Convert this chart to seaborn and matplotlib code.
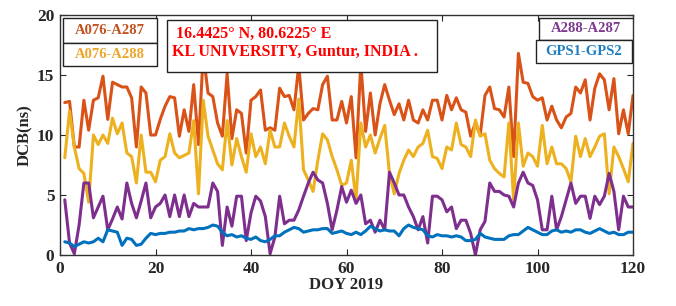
import numpy as np
import pandas as pd
import matplotlib
matplotlib.use("Agg")
import matplotlib.pyplot as plt
import seaborn as sns
from matplotlib.patches import Rectangle

# DCB values per day of year (2019)
doy = list(range(1, 121))

a076_a287 = [12.7, 12.8, 9.0, 9.0, 12.9, 10.4, 12.9, 13.1, 14.9, 11.3,
             14.4, 14.2, 14.0, 14.0, 13.1, 9.0, 14.0, 13.5, 10.0, 10.0,
             11.3, 12.4, 13.2, 13.1, 9.9, 12.1, 10.3, 14.2, 9.2, 16.8,
             13.5, 13.2, 11.0, 9.9, 15.1, 9.7, 12.1, 11.8, 8.5, 12.9,
             13.2, 13.75, 10.4, 10.6, 10.4, 13.9, 13.2, 13.3, 12.1, 15.8,
             11.25, 11.8, 12.2, 12.1, 14.2, 14.9, 11.25, 11.25, 12.8, 11.0,
             13.2, 8.1, 16.0, 10.3, 13.5, 10.0, 12.6, 14.2, 12.9, 11.7,
             12.6, 11.25, 12.9, 11.25, 11.0, 12.1, 11.25, 12.9, 12.9, 11.25,
             13.3, 12.1, 13.1, 12.1, 11.9, 9.9, 11.0, 10.0, 13.3, 14.0,
             12.2, 12.1, 11.5, 14.0, 8.2, 16.8, 14.4, 14.3, 13.2, 12.9,
             13.1, 11.25, 12.4, 11.25, 10.6, 11.5, 11.8, 14.0, 13.5, 14.6,
             11.25, 13.9, 15.1, 14.6, 12.1, 14.7, 10.1, 12.1, 10.1, 13.3]

a076_a288 = [8.1, 12.0, 9.0, 7.2, 6.8, 4.4, 10.0, 9.2, 10.0, 9.3,
             11.4, 10.1, 11.0, 8.5, 8.2, 6.0, 10.0, 6.9, 6.9, 6.1,
             7.9, 8.2, 10.1, 8.5, 8.1, 8.3, 8.5, 11.2, 5.1, 12.9,
             9.9, 8.75, 7.6, 7.1, 11.2, 7.5, 9.7, 8.2, 6.9, 10.1,
             8.2, 9.0, 7.6, 10.4, 9.0, 9.0, 11.0, 9.9, 9.0, 13.0,
             7.1, 6.25, 5.3, 7.9, 10.1, 9.6, 8.2, 7.1, 5.8, 6.0,
             7.9, 4.6, 11.0, 9.0, 10.0, 8.5, 9.7, 10.8, 6.8, 5.1,
             6.8, 7.9, 8.75, 8.2, 9.0, 9.3, 10.4, 8.2, 8.05, 7.2,
             9.0, 8.75, 11.0, 9.2, 9.0, 8.2, 11.25, 9.9, 10.1, 7.9,
             7.2, 6.8, 6.5, 11.0, 4.6, 11.0, 7.4, 8.5, 8.2, 7.4,
             10.8, 7.6, 9.0, 7.6, 7.6, 7.2, 6.1, 9.9, 8.2, 9.7,
             8.2, 9.0, 9.9, 10.1, 5.1, 9.0, 8.2, 7.2, 6.1, 9.3]

a288_a287 = [4.6, 1.0, 0.1, 2.5, 6.0, 6.0, 3.1, 4.0, 4.9, 2.1,
             3.0, 4.0, 3.0, 6.0, 4.3, 3.1, 4.5, 6.0, 3.1, 4.0,
             4.3, 5.0, 3.2, 5.0, 3.2, 5.0, 3.2, 4.3, 4.0, 4.0,
             4.0, 6.0, 5.3, 0.8, 4.0, 2.4, 4.9, 4.9, 1.2, 3.5,
             4.9, 4.5, 3.2, 0.1, 1.5, 4.9, 2.6, 2.9, 2.9, 3.75,
             4.9, 6.0, 6.9, 6.25, 6.0, 4.3, 2.1, 3.75, 5.7, 4.4,
             5.4, 4.3, 5.0, 2.6, 2.9, 1.9, 2.9, 2.1, 6.9, 6.0,
             5.0, 5.0, 4.0, 3.2, 2.1, 3.2, 1.0, 4.9, 4.9, 4.6,
             3.6, 4.0, 2.2, 2.9, 2.9, 1.8, 0.0, 2.1, 2.8, 6.0,
             5.3, 5.3, 5.0, 4.9, 4.0, 6.0, 6.9, 6.0, 5.8, 4.6,
             2.1, 2.1, 4.9, 2.1, 3.2, 4.6, 6.0, 4.3, 4.9, 4.9,
             3.05, 4.9, 4.2, 4.9, 6.8, 5.3, 2.1, 4.9, 4.0, 4.0]

gps1_gps2 = [1.1, 1.0, 0.7, 0.9, 1.1, 1.0, 1.1, 1.4, 1.1, 2.1,
             2.0, 1.9, 0.8, 1.4, 1.3, 0.8, 0.9, 1.4, 1.8, 1.7,
             1.8, 1.8, 1.9, 1.9, 2.0, 2.0, 2.2, 2.1, 2.2, 2.2,
             2.3, 2.5, 2.4, 1.9, 1.6, 1.7, 1.5, 1.6, 1.4, 1.3,
             1.5, 1.2, 1.1, 1.3, 1.6, 1.6, 1.9, 2.1, 2.3, 2.2,
             1.9, 2.0, 2.1, 2.1, 2.2, 2.2, 1.8, 1.9, 2.0, 1.8,
             1.7, 1.9, 1.7, 2.0, 2.4, 2.2, 2.0, 2.1, 2.0, 2.0,
             1.6, 2.2, 2.5, 2.3, 2.2, 2.1, 1.6, 1.5, 1.7, 1.6,
             1.6, 1.5, 1.6, 1.5, 1.2, 1.2, 1.3, 1.8, 1.5, 1.4,
             1.3, 1.3, 1.3, 1.6, 1.7, 1.7, 2.0, 2.3, 2.1, 1.9,
             1.7, 1.7, 2.0, 2.1, 1.9, 2.0, 1.9, 2.1, 2.1, 1.9,
             1.8, 2.0, 2.2, 2.0, 1.8, 1.9, 1.7, 1.7, 1.9, 1.9]

series_names = ["A076-A287", "A076-A288", "A288-A287", "GPS1-GPS2"]
colors = ["#D95319", "#EDB120", "#7E2F8E", "#0072BD"]

# long form table for seaborn
df = pd.concat([
    pd.DataFrame({"DOY": doy, "DCB": vals, "pair": name})
    for name, vals in zip(series_names, [a076_a287, a076_a288, a288_a287, gps1_gps2])
])

sns.set_style("ticks")
plt.rcParams['font.family'] = ['Liberation Serif', 'DejaVu Serif']
plt.rcParams['font.weight'] = 'bold'

fig = plt.figure(figsize=(6.76, 3.06), dpi=100)
ax = fig.add_axes([60/676, 51/306, 573/676, 240/306])

sns.lineplot(data=df, x="DOY", y="DCB", hue="pair", palette=colors,
             linewidth=2.2, legend=False, ax=ax)

ax.set_xlim(0, 120)
ax.set_ylim(0, 20)
ax.set_xticks([0, 20, 40, 60, 80, 100, 120])
ax.set_yticks([0, 5, 10, 15, 20])
ax.tick_params(direction="in", top=True, right=True, length=4, width=0.8,
               labelsize=12.5, pad=4)
for lab in ax.get_xticklabels() + ax.get_yticklabels():
    lab.set_fontweight("bold")
for s in ax.spines.values():
    s.set_linewidth(1.0)
    s.set_color("#333333")

ax.set_xlabel("DOY 2019", fontsize=12, fontweight="bold", labelpad=0)
ax.set_ylabel("DCB(ns)", fontsize=12, fontweight="bold", labelpad=3)

# legend boxes drawn like the original (each label in its own box)
def label_box(x0, y0, x1, y1, text, color):
    ax.add_patch(Rectangle((x0, y0), x1 - x0, y1 - y0, transform=ax.transAxes,
                           facecolor="white", edgecolor="#222222", lw=1.0, zorder=5))
    ax.text((x0 + x1) / 2, (y0 + y1) / 2, text, transform=ax.transAxes,
            color=color, fontsize=10.5, fontweight="bold", ha="center", va="center", zorder=6)

label_box(0.005, 0.883, 0.169, 0.988, "A076-A287", "#C0531F")
label_box(0.005, 0.788, 0.169, 0.883, "A076-A288", "#EDA62A")
label_box(0.836, 0.896, 1.0, 0.988, "A288-A287", "#7E3A8E")
label_box(0.831, 0.800, 0.998, 0.896, "GPS1-GPS2", "#1F7CC0")

# station box
ax.add_patch(Rectangle((0.187, 0.7625), 0.471, 0.2165, transform=ax.transAxes,
                       facecolor="white", edgecolor="#222222", lw=1.0, zorder=5))
ax.text(0.203, 0.92, "16.4425° N, 80.6225° E", transform=ax.transAxes,
        color="#FF0000", fontsize=11.5, fontweight="bold", ha="left", va="center", zorder=6)
ax.text(0.195, 0.845, "KL UNIVERSITY, Guntur, INDIA .", transform=ax.transAxes,
        color="#FF0000", fontsize=11.5, fontweight="bold", ha="left", va="center", zorder=6)

fig.savefig("out.png", dpi=100)
